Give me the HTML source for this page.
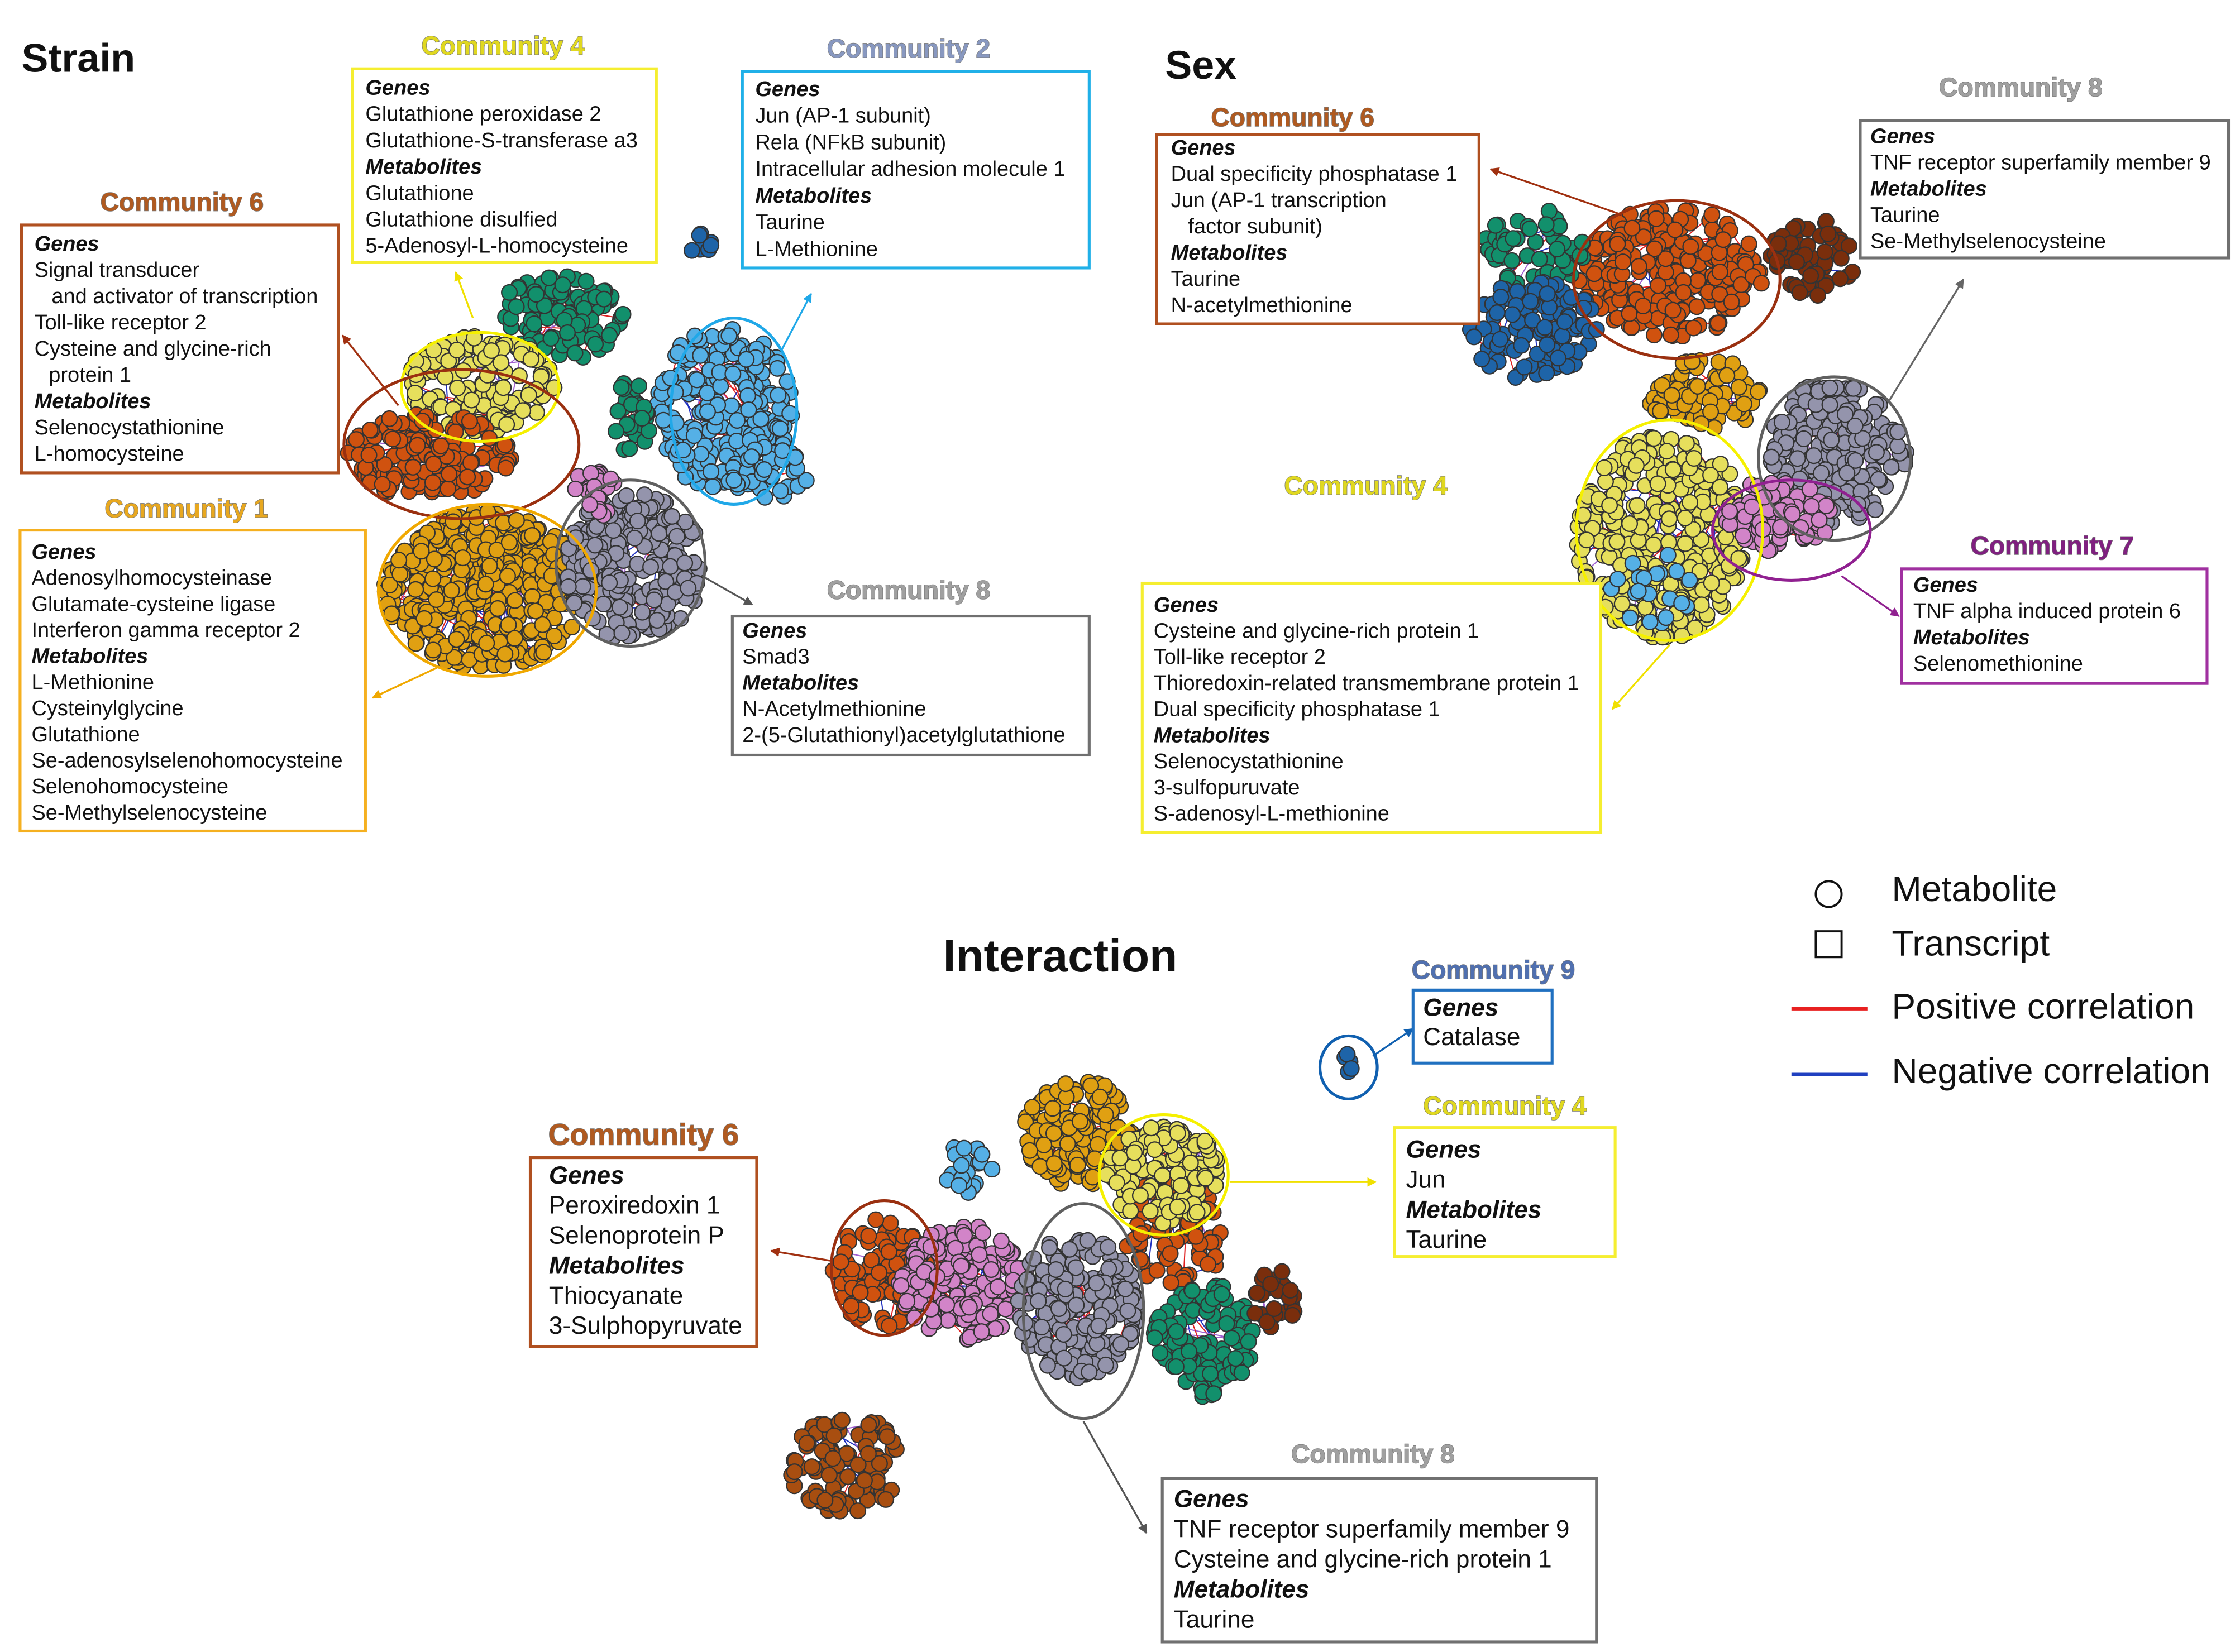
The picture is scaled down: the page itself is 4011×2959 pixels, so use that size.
<!DOCTYPE html>
<html><head><meta charset="utf-8"><style>
html,body{margin:0;padding:0;background:#fff;width:4011px;height:2959px;overflow:hidden}
svg{display:block}
text{font-family:"Liberation Sans",Arial,sans-serif;fill:#111}
.t{font-size:14.8px}
.ti{font-size:17.2px}
.b{font-weight:bold;font-style:italic}
.ct{font-weight:bold;font-size:18px;text-anchor:middle;stroke:#777;stroke-width:0.6px;paint-order:stroke}
</style></head><body>
<svg id="s" width="4011" height="2959" viewBox="0 0 1563 1153" xmlns="http://www.w3.org/2000/svg">
<defs>
<marker id="a" viewBox="0 0 10 10" refX="9" refY="5" markerWidth="5" markerHeight="5" orient="auto"><path d="M0,0L10,5L0,10z" fill="context-stroke"/></marker>
</defs>
<g id="edges"></g>
<g id="nodes"></g>
<g fill="none" stroke-width="2">
<ellipse cx="335" cy="270" rx="55" ry="38" stroke="#f5f000"/>
<ellipse cx="322" cy="310" rx="82" ry="52" stroke="#9a3010"/>
<ellipse cx="340" cy="412" rx="76" ry="60" stroke="#f0a800"/>
<ellipse cx="440" cy="393" rx="52" ry="58" stroke="#606060"/>
<ellipse cx="512" cy="287" rx="44" ry="65" stroke="#20a8e8"/>
<ellipse cx="1170" cy="195" rx="72" ry="55" stroke="#9a3010"/>
<ellipse cx="1165" cy="370" rx="65" ry="77" stroke="#f5f000"/>
<ellipse cx="1280" cy="320" rx="53" ry="57" stroke="#606060"/>
<ellipse cx="1250" cy="370" rx="55" ry="35" stroke="#902090"/>
<ellipse cx="617" cy="885" rx="37" ry="47" stroke="#9a3010"/>
<ellipse cx="812" cy="820" rx="45" ry="42" stroke="#f5f000"/>
<ellipse cx="756" cy="915" rx="42" ry="75" stroke="#606060"/>
<ellipse cx="941" cy="745" rx="20" ry="22" stroke="#1060b0"/>
</g>
<g fill="none" stroke-width="1.3">
<line x1="330" y1="222" x2="318" y2="190" stroke="#f0e000" marker-end="url(#a)"/>
<line x1="545" y1="245" x2="566" y2="205" stroke="#20a8e8" marker-end="url(#a)"/>
<line x1="278" y1="283" x2="239" y2="234" stroke="#a03010" marker-end="url(#a)"/>
<line x1="305" y1="466" x2="260" y2="487" stroke="#f0a800" marker-end="url(#a)"/>
<line x1="490" y1="402" x2="525" y2="422" stroke="#555" marker-end="url(#a)"/>
<line x1="1132" y1="150" x2="1040" y2="118" stroke="#a03010" marker-end="url(#a)"/>
<line x1="1318" y1="280" x2="1370" y2="195" stroke="#666" marker-end="url(#a)"/>
<line x1="1165" y1="450" x2="1125" y2="495" stroke="#f0e000" marker-end="url(#a)"/>
<line x1="1285" y1="402" x2="1325" y2="430" stroke="#902090" marker-end="url(#a)"/>
<line x1="580" y1="880" x2="538" y2="873" stroke="#a03010" marker-end="url(#a)"/>
<line x1="858" y1="825" x2="960" y2="825" stroke="#f0e000" marker-end="url(#a)"/>
<line x1="756" y1="992" x2="800" y2="1070" stroke="#555" marker-end="url(#a)"/>
<line x1="958" y1="737" x2="986" y2="718" stroke="#1060b0" marker-end="url(#a)"/>
</g>
<g fill="#fff" stroke-width="2">
<rect x="246" y="48" width="212" height="135" stroke="#f5ee30"/>
<rect x="518" y="50" width="242" height="137" stroke="#20b0e8"/>
<rect x="15" y="157" width="221" height="173" stroke="#b05020"/>
<rect x="14" y="370" width="241" height="210" stroke="#f5b020"/>
<rect x="511" y="430" width="249" height="97" stroke="#707070"/>
<rect x="807" y="94" width="225" height="132" stroke="#b05020"/>
<rect x="1298" y="84" width="257" height="96" stroke="#707070"/>
<rect x="797" y="407" width="320" height="174" stroke="#f5ee30"/>
<rect x="1327" y="397" width="213" height="80" stroke="#a030a0"/>
<rect x="986" y="691" width="97" height="51" stroke="#2070c0"/>
<rect x="973" y="787" width="154" height="90" stroke="#f5ee30"/>
<rect x="370" y="808" width="158" height="132" stroke="#b05020"/>
<rect x="811" y="1032" width="303" height="114" stroke="#707070"/>
</g>
<text x="15" y="50" style="font-size:28px;font-weight:bold">Strain</text>
<text x="813" y="55" style="font-size:28px;font-weight:bold">Sex</text>
<text x="658" y="678" style="font-size:32px;font-weight:bold">Interaction</text>
<text class="ct" x="351" y="38" style="fill:#e0d820">Community 4</text>
<text class="ct" x="634" y="40" style="fill:#8898c0">Community 2</text>
<text class="ct" x="127" y="147" style="fill:#b05a20">Community 6</text>
<text class="ct" x="130" y="361" style="fill:#e8a820">Community 1</text>
<text class="ct" x="634" y="418" style="fill:#a0a0a0">Community 8</text>
<text class="ct" x="902" y="88" style="fill:#b05a20">Community 6</text>
<text class="ct" x="1410" y="67" style="fill:#a0a0a0">Community 8</text>
<text class="ct" x="953" y="345" style="fill:#e0d820">Community 4</text>
<text class="ct" x="1432" y="387" style="fill:#802080">Community 7</text>
<text class="ct" x="1042" y="683" style="fill:#5070b0">Community 9</text>
<text class="ct" x="1050" y="778" style="fill:#e0d820">Community 4</text>
<text class="ct" x="449" y="799" style="fill:#b05a20;font-size:21px">Community 6</text>
<text class="ct" x="958" y="1021" style="fill:#a0a0a0">Community 8</text>
<g class="t">
<text x="255" y="66"><tspan class="b" x="255">Genes</tspan><tspan x="255" dy="18.4">Glutathione peroxidase 2</tspan><tspan x="255" dy="18.4">Glutathione-S-transferase a3</tspan><tspan class="b" x="255" dy="18.4">Metabolites</tspan><tspan x="255" dy="18.4">Glutathione</tspan><tspan x="255" dy="18.4">Glutathione disulfied</tspan><tspan x="255" dy="18.4">5-Adenosyl-L-homocysteine</tspan></text>
<text x="527" y="67"><tspan class="b" x="527">Genes</tspan><tspan x="527" dy="18.6">Jun (AP-1 subunit)</tspan><tspan x="527" dy="18.6">Rela (NFkB subunit)</tspan><tspan x="527" dy="18.6">Intracellular adhesion molecule 1</tspan><tspan class="b" x="527" dy="18.6">Metabolites</tspan><tspan x="527" dy="18.6">Taurine</tspan><tspan x="527" dy="18.6">L-Methionine</tspan></text>
<text x="24" y="175"><tspan class="b" x="24">Genes</tspan><tspan x="24" dy="18.3">Signal transducer</tspan><tspan x="36" dy="18.3">and activator of transcription</tspan><tspan x="24" dy="18.3">Toll-like receptor 2</tspan><tspan x="24" dy="18.3">Cysteine and glycine-rich</tspan><tspan x="34" dy="18.3">protein 1</tspan><tspan class="b" x="24" dy="18.3">Metabolites</tspan><tspan x="24" dy="18.3">Selenocystathionine</tspan><tspan x="24" dy="18.3">L-homocysteine</tspan></text>
<text x="22" y="390"><tspan class="b" x="22">Genes</tspan><tspan x="22" dy="18.2">Adenosylhomocysteinase</tspan><tspan x="22" dy="18.2">Glutamate-cysteine ligase</tspan><tspan x="22" dy="18.2">Interferon gamma receptor 2</tspan><tspan class="b" x="22" dy="18.2">Metabolites</tspan><tspan x="22" dy="18.2">L-Methionine</tspan><tspan x="22" dy="18.2">Cysteinylglycine</tspan><tspan x="22" dy="18.2">Glutathione</tspan><tspan x="22" dy="18.2">Se-adenosylselenohomocysteine</tspan><tspan x="22" dy="18.2">Selenohomocysteine</tspan><tspan x="22" dy="18.2">Se-Methylselenocysteine</tspan></text>
<text x="518" y="445"><tspan class="b" x="518">Genes</tspan><tspan x="518" dy="18.2">Smad3</tspan><tspan class="b" x="518" dy="18.2">Metabolites</tspan><tspan x="518" dy="18.2">N-Acetylmethionine</tspan><tspan x="518" dy="18.2">2-(5-Glutathionyl)acetylglutathione</tspan></text>
<text x="817" y="108"><tspan class="b" x="817">Genes</tspan><tspan x="817" dy="18.3">Dual specificity phosphatase 1</tspan><tspan x="817" dy="18.3">Jun (AP-1 transcription</tspan><tspan x="829" dy="18.3">factor subunit)</tspan><tspan class="b" x="817" dy="18.3">Metabolites</tspan><tspan x="817" dy="18.3">Taurine</tspan><tspan x="817" dy="18.3">N-acetylmethionine</tspan></text>
<text x="1305" y="100"><tspan class="b" x="1305">Genes</tspan><tspan x="1305" dy="18.3">TNF receptor superfamily member 9</tspan><tspan class="b" x="1305" dy="18.3">Metabolites</tspan><tspan x="1305" dy="18.3">Taurine</tspan><tspan x="1305" dy="18.3">Se-Methylselenocysteine</tspan></text>
<text x="805" y="427"><tspan class="b" x="805">Genes</tspan><tspan x="805" dy="18.2">Cysteine and glycine-rich protein 1</tspan><tspan x="805" dy="18.2">Toll-like receptor 2</tspan><tspan x="805" dy="18.2">Thioredoxin-related transmembrane protein 1</tspan><tspan x="805" dy="18.2">Dual specificity phosphatase 1</tspan><tspan class="b" x="805" dy="18.2">Metabolites</tspan><tspan x="805" dy="18.2">Selenocystathionine</tspan><tspan x="805" dy="18.2">3-sulfopuruvate</tspan><tspan x="805" dy="18.2">S-adenosyl-L-methionine</tspan></text>
<text x="1335" y="413"><tspan class="b" x="1335">Genes</tspan><tspan x="1335" dy="18.3">TNF alpha induced protein 6</tspan><tspan class="b" x="1335" dy="18.3">Metabolites</tspan><tspan x="1335" dy="18.3">Selenomethionine</tspan></text>
</g>
<g class="ti">
<text x="993" y="709"><tspan class="b" x="993">Genes</tspan><tspan x="993" dy="20.5">Catalase</tspan></text>
<text x="981" y="808"><tspan class="b" x="981">Genes</tspan><tspan x="981" dy="21">Jun</tspan><tspan class="b" x="981" dy="21">Metabolites</tspan><tspan x="981" dy="21">Taurine</tspan></text>
<text x="383" y="826"><tspan class="b" x="383">Genes</tspan><tspan x="383" dy="21">Peroxiredoxin  1</tspan><tspan x="383" dy="21">Selenoprotein P</tspan><tspan class="b" x="383" dy="21">Metabolites</tspan><tspan x="383" dy="21">Thiocyanate</tspan><tspan x="383" dy="21">3-Sulphopyruvate</tspan></text>
<text x="819" y="1052"><tspan class="b" x="819">Genes</tspan><tspan x="819" dy="21">TNF receptor superfamily member 9</tspan><tspan x="819" dy="21">Cysteine and glycine-rich protein 1</tspan><tspan class="b" x="819" dy="21">Metabolites</tspan><tspan x="819" dy="21">Taurine</tspan></text>
</g>
<circle cx="1276" cy="624" r="9" fill="none" stroke="#111" stroke-width="1.5"/>
<rect x="1267" y="650" width="18" height="18" fill="none" stroke="#111" stroke-width="1.5"/>
<line x1="1250" y1="704" x2="1303" y2="704" stroke="#e82020" stroke-width="2.5"/>
<line x1="1250" y1="750" x2="1303" y2="750" stroke="#2040c0" stroke-width="2.5"/>
<g style="font-size:25px">
<text x="1320" y="629">Metabolite</text>
<text x="1320" y="667">Transcript</text>
<text x="1320" y="711">Positive correlation</text>
<text x="1320" y="756">Negative correlation</text>
</g>
</svg>
<script>
(function(){
var seed=7;function R(){seed=(seed*16807)%2147483647;return (seed-1)/2147483646;}
var C={g:"#12906c",y:"#e6df5c",o:"#d0520f",go:"#e0a012",gr:"#9494ac",bl:"#55b0e6",p:"#d284c8",db:"#1e64a8",br:"#a84e10",dbr:"#7a2e0c"};
var cl=[
["g",390,222,45,30,110],["y",335,268,52,34,140],["o",300,318,58,30,160],["go",338,412,70,55,380],["gr",442,395,48,52,240],["p",415,345,15,20,30],["bl",505,285,48,58,240],["bl",535,330,30,18,40],["db",490,172,8,12,8],["g",440,290,15,25,28],
["o",1165,190,65,45,250],["g",1070,175,35,30,60],["db",1070,230,45,35,110],["dbr",1265,180,30,28,60],["go",1190,275,40,25,80],["y",1160,375,60,72,360],["gr",1282,315,48,50,220],["p",1240,360,38,25,80],["bl",1150,410,30,30,20],
["go",752,790,38,38,140],["o",820,860,35,40,95],["y",812,820,40,34,130],["bl",675,815,18,18,20],["o",615,890,34,40,110],["p",672,895,45,40,200],["gr",752,912,42,50,200],["g",840,935,35,40,120],["dbr",890,905,18,22,25],["br",590,1022,40,35,110],["db",940,745,10,12,5]];
var E=document.getElementById("edges"),N=document.getElementById("nodes"),eh="",nh="";
cl.forEach(function(c){var pts=[];for(var i=0;i<c[5];i++){var a=R()*6.283,r=Math.sqrt(R());pts.push([c[1]+Math.cos(a)*r*c[3],c[2]+Math.sin(a)*r*c[4]]);}
for(var j=0;j<c[5]/6;j++){var p=pts[Math.floor(R()*pts.length)],q=pts[Math.floor(R()*pts.length)];var col=R()<0.5?"#e02020":(R()<0.5?"#2030c0":"#a060d0");eh+='<line x1="'+p[0].toFixed(1)+'" y1="'+p[1].toFixed(1)+'" x2="'+q[0].toFixed(1)+'" y2="'+q[1].toFixed(1)+'" stroke="'+col+'" stroke-width="0.8"/>';}
pts.forEach(function(p){nh+='<circle cx="'+p[0].toFixed(1)+'" cy="'+p[1].toFixed(1)+'" r="5.4" fill="'+C[c[0]]+'" stroke="#333" stroke-width="0.9"/>';});});
E.innerHTML=eh;N.innerHTML=nh;})();
</script>
</body></html>
